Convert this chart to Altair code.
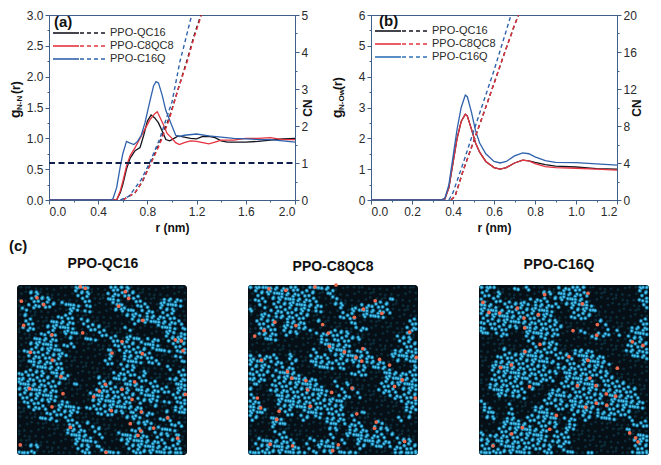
import altair as alt
import pandas as pd

FONT = "Liberation Sans"
AXIS = "#3f5f86"
TEXT = "#2a2a2a"
BLACK = "#15151f"
RED = "#e5333f"
BLUE = "#2f62ad"
BLUE_B = "#2f70b8"

names = ["PPO-QC16", "PPO-C8QC8", "PPO-C16Q"]

# panel (a) g(r)
a_q_r = [0.0, 0.55, 0.58, 0.6, 0.63, 0.66, 0.7, 0.74, 0.77, 0.8, 0.83, 0.86, 0.89, 0.92, 0.95, 0.98, 1.0, 1.05, 1.1, 1.15, 1.2, 1.25, 1.3, 1.35, 1.4, 1.45, 1.5, 1.6, 1.7, 1.8, 1.9, 2.0]
a_q_g = [0.0, 0.0, 0.12, 0.25, 0.5, 0.68, 0.8, 0.85, 1.05, 1.28, 1.38, 1.33, 1.25, 1.12, 0.98, 0.96, 0.98, 1.04, 1.02, 1.0, 0.99, 1.03, 1.03, 1.01, 0.96, 0.94, 0.94, 0.94, 0.95, 0.97, 0.99, 1.0]
a_c8_r = [0.0, 0.55, 0.58, 0.6, 0.63, 0.66, 0.7, 0.74, 0.78, 0.82, 0.86, 0.88, 0.9, 0.93, 0.96, 1.0, 1.03, 1.06, 1.1, 1.15, 1.2, 1.25, 1.3, 1.35, 1.4, 1.5, 1.6, 1.7, 1.8, 1.9, 2.0]
a_c8_g = [0.0, 0.0, 0.15, 0.3, 0.55, 0.72, 0.85, 1.0, 1.15, 1.3, 1.4, 1.43, 1.35, 1.22, 1.08, 1.0, 0.93, 0.9, 0.93, 0.96, 0.95, 0.93, 0.91, 0.94, 0.97, 0.97, 1.0, 1.0, 1.01, 0.98, 0.98]
a_c16_r = [0.0, 0.5, 0.52, 0.55, 0.58, 0.6, 0.63, 0.65, 0.69, 0.72, 0.75, 0.78, 0.82, 0.85, 0.87, 0.89, 0.92, 0.95, 0.98, 1.0, 1.03, 1.06, 1.1, 1.2, 1.3, 1.4, 1.5, 1.6, 1.7, 1.8, 1.9, 2.0]
a_c16_g = [0.0, 0.0, 0.02, 0.2, 0.55, 0.75, 0.95, 0.93, 0.9, 0.95, 1.05, 1.25, 1.6, 1.85, 1.92, 1.9, 1.7, 1.45, 1.3, 1.2, 1.05, 1.03, 1.05, 1.07, 1.04, 1.02, 1.0, 0.99, 0.98, 0.98, 0.96, 0.94]

# panel (a) CN
a_q_cr = [0.6, 0.7, 0.76, 0.82, 0.9, 0.98, 1.05, 1.12, 1.18, 1.235]
a_q_cn = [0.0, 0.2, 0.5, 0.95, 1.55, 2.25, 3.0, 3.75, 4.45, 5.0]
a_c8_cr = [0.6, 0.7, 0.75, 0.82, 0.9, 0.98, 1.05, 1.12, 1.18, 1.24]
a_c8_cn = [0.0, 0.2, 0.45, 0.93, 1.5, 2.2, 3.0, 3.7, 4.4, 5.0]
a_c16_cr = [0.58, 0.65, 0.75, 0.82, 0.9, 0.957, 1.0, 1.065, 1.1, 1.16]
a_c16_cn = [0.0, 0.1, 0.55, 1.02, 1.65, 2.23, 2.65, 3.75, 4.2, 5.0]

# panel (b) g(r)
b_r = [0.0, 0.34, 0.36, 0.38, 0.4, 0.42, 0.44, 0.46, 0.47, 0.49, 0.51, 0.53, 0.56, 0.6, 0.63, 0.66, 0.7, 0.74, 0.77, 0.8, 0.85, 0.9, 1.0, 1.1, 1.2]
b_q_g = [0.0, 0.0, 0.03, 0.4, 1.2, 2.0, 2.55, 2.78, 2.72, 2.3, 1.85, 1.55, 1.25, 1.05, 1.0, 1.05, 1.2, 1.29, 1.27, 1.22, 1.15, 1.1, 1.07, 1.02, 1.0]
b_c8_g = [0.0, 0.0, 0.03, 0.4, 1.2, 2.0, 2.55, 2.78, 2.72, 2.3, 1.85, 1.55, 1.25, 1.05, 1.0, 1.05, 1.2, 1.29, 1.27, 1.18, 1.08, 1.05, 1.03, 1.0, 0.97]
b_c16_g = [0.0, 0.0, 0.05, 0.5, 1.4, 2.3, 3.0, 3.4, 3.35, 2.85, 2.25, 1.85, 1.5, 1.25, 1.2, 1.25, 1.43, 1.53, 1.5, 1.4, 1.28, 1.22, 1.21, 1.17, 1.13]

# panel (b) CN
b_q_cr = [0.39, 0.41, 0.45, 0.5, 0.55, 0.6, 0.65, 0.7, 0.72]
b_q_cn = [0.0, 0.4, 3.2, 6.3, 9.4, 12.6, 15.8, 18.9, 20.0]
b_c8_cr = [0.39, 0.41, 0.45, 0.5, 0.55, 0.6, 0.65, 0.7, 0.72]
b_c8_cn = [0.0, 0.4, 3.2, 6.3, 9.4, 12.6, 15.8, 18.9, 20.0]
b_c16_cr = [0.38, 0.4, 0.45, 0.5, 0.55, 0.6, 0.65, 0.683]
b_c16_cn = [0.0, 0.8, 4.0, 7.4, 10.7, 14.0, 17.6, 20.0]

# snapshots: 30 x 30 map of the blue beads
map_q = [
    "..........###...####..........",
    "..##......###...#####.........",
    "..####.....##...##..##....###.",
    "..#####.###.#....##..##..####.",
    ".#.......##.#....####.##.###..",
    ".#.....###.........###.#####..",
    ".##...####.##.......#########.",
    ".##..#####..###....#.....###.#",
    "....###.###...##..........##.#",
    "...####..#..##..##.###.##.####",
    "..#####.##.......####.###..###",
    ".#######........#.#####.###.##",
    "..#######.......#..#####....#.",
    "..######.......##..###.##....#",
    "...#####..........###.....#...",
    "#####.###........####.#.....##",
    "######.##.....#..###.##....###",
    "########..#...###..###.##...##",
    "#######.......######.######.##",
    "#######......########.###..###",
    ".######.#....#######.####.#.##",
    "..###..####.##########..#...##",
    ".....######...#####.#.##..#.##",
    "....###.##.........###...##...",
    ".........##.#........###...##.",
    ".........###.##.....##.#.###..",
    ".........####.#...#####.###.#.",
    "..........####....########.##.",
    "..##......###.#....##########.",
    "###........##..###..#########.",
]
map_c8 = [
    "#########..####...............",
    ".###########..#...............",
    ".##.########...#.........#....",
    "..#.#########..##...#####.....",
    "#...#######.#...#.#######.....",
    "..##.######.....###.####......",
    ".####..###..#.....#.........##",
    "..###.##.##........##.......##",
    "..###.###...######..........#.",
    "...##........#.#####......###.",
    ".............#####.........###",
    "...........#..####.##.....####",
    "#.###..#...###.#######...#####",
    "###.##.##..#########.###..#.##",
    "####..##....###.#..##.###....#",
    "####.####.........###...######",
    "###.########............######",
    ".#..#########..#.#.....#######",
    "#...##########..#.#....###.###",
    "#....#########..##.#.....#####",
    "##...############..........###",
    "###..############...........##",
    "###...##..###.###...#.......#.",
    "##..##...##.#.###.#.......#.#.",
    "....###.......##.###...#......",
    "....#.........##..###.###.....",
    ".....##.......#..#######.#....",
    "..######...#.##.#..######.###.",
    ".########.#.####...##.##.#####",
    "##########.#.##.###.......####",
]
map_c16 = [
    "###...#.#.....#####.........##",
    "##.#.......##.#####.........##",
    "#.##.....###.######.........##",
    "###.#####.####.#####.........#",
    "#############...#####.........",
    "#############...####..........",
    "##############.......#......##",
    "#.#####.#######.......#....###",
    "##.##...######....#..##.#..###",
    "........##.#........#.....###.",
    ".........#.###............####",
    "....#...######...###......####",
    "...#########.###.#####.....###",
    "...###########.##.#####.......",
    "..##########..########........",
    "..############.########.......",
    "..#######.###..#####.###......",
    "..######.##...#######.####....",
    "..######.#...##.#####.######..",
    "...##.##....##########.#####..",
    "#..........####.######.######.",
    ".#...#....##.########.#######.",
    ".##..#....###...####.######...",
    ".##..##.######.##.##.###..#...",
    "....#####.####..#..........###",
    "...#########.#.##.........#...",
    "#.##########.###............##",
    "##.#########.###...........###",
    "###.#########.#............###",
    "#########..##..##..#.......###",
]

# red beads, in picture pixels of each snapshot's crop
red_q_x = [210, 225, 345, 355, 80, 100, 33, 325, 40, 217, 125, 397, 335, 396, 60, 126, 495, 513, 518, 305, 373, 285, 267, 58, 335, 158, 525, 250, 365, 125, 303, 393, 472, 360, 430, 180, 391, 383, 502, 30, 287, 152]
red_q_y = [25, 30, 40, 60, 58, 78, 68, 83, 140, 162, 168, 125, 188, 224, 220, 243, 183, 186, 215, 222, 308, 315, 335, 328, 330, 343, 345, 352, 360, 382, 393, 397, 415, 432, 445, 443, 453, 467, 475, 495, 517, 292]
red_c8_x = [85, 135, 222, 285, 367, 402, 422, 340, 102, 165, 245, 70, 42, 262, 505, 265, 365, 310, 345, 525, 415, 362, 445, 62, 140, 153, 195, 483, 460, 333, 200, 272, 522, 50, 60, 115, 208, 347, 108, 405, 400, 490, 88, 155, 275, 292]
red_c8_y = [24, 28, 18, 12, 85, 60, 98, 110, 125, 135, 132, 150, 167, 158, 155, 198, 205, 215, 232, 232, 238, 243, 255, 240, 275, 295, 302, 300, 320, 325, 330, 338, 355, 355, 385, 395, 380, 403, 420, 428, 447, 487, 495, 500, 515, 497]
red_c16_x = [227, 42, 340, 357, 145, 60, 92, 208, 165, 167, 312, 385, 383, 213, 168, 490, 522, 300, 357, 127, 95, 445, 363, 325, 381, 182, 440, 412, 382, 413, 350, 262, 160, 128, 242, 72, 482, 500, 507]
red_c16_y = [44, 68, 72, 40, 85, 98, 100, 105, 115, 145, 153, 135, 167, 195, 217, 187, 198, 232, 243, 257, 265, 267, 297, 320, 320, 323, 352, 345, 373, 379, 385, 410, 447, 466, 452, 502, 463, 478, 490]

# beads never sit on a lattice, this fixed pattern knocks them off it
shift_a = [0.22, -0.28, 0.08, -0.12, 0.3, -0.33, 0.02, 0.16, -0.2]
shift_b = [-0.1, 0.26, -0.3, 0.14, 0.04, -0.22, 0.32, -0.04, 0.18]


def curve(xs, ys, name):
    return pd.DataFrame({"r": xs, "v": ys, "s": name})


def ticks_layer(x_dom, y_dom, x_vals, y_vals, right_vals, right_dom):
    # transparent lines that only carry the short unlabelled ticks
    d = pd.DataFrame({"x": x_dom, "y": y_dom, "c": right_dom})
    base = alt.Chart(d).mark_line(opacity=0)
    minor = dict(labels=False, domain=False, title=None, tickSize=2, tickColor=AXIS, grid=False)
    return [
        base.encode(
            x=alt.X("x:Q", scale=alt.Scale(domain=x_dom), axis=alt.Axis(values=x_vals, orient="bottom", **minor)),
            y=alt.Y("y:Q", scale=alt.Scale(domain=y_dom), axis=alt.Axis(values=y_vals, orient="left", **minor)),
        ),
        base.encode(
            x=alt.X("x:Q", scale=alt.Scale(domain=x_dom), axis=None),
            y=alt.Y("c:Q", scale=alt.Scale(domain=right_dom),
                    axis=alt.Axis(values=right_vals, orient="right", **minor)),
        ),
    ]


def y_fmt(vals):
    return ".1f" if any(v != int(v) for v in vals) else "d"


def panel(tag, sub, sub_len, g_df, cn_df, x_dom, x_major, x_minor, y_dom, y_major, y_minor,
          c_dom, c_major, c_minor, colors, rows, tag_x, tag_y, line_at=None):
    col = alt.Color("s:N", scale=alt.Scale(domain=names, range=colors), legend=None)
    g = alt.Chart(g_df).mark_line(strokeWidth=1.3, clip=True).encode(
        x=alt.X("r:Q", scale=alt.Scale(domain=x_dom),
                axis=alt.Axis(values=x_major, format=".1f", title="r (nm)", orient="bottom", grid=False, domainColor=AXIS,
                              tickColor=AXIS, tickSize=4, titlePadding=5)),
        y=alt.Y("v:Q", scale=alt.Scale(domain=y_dom),
                axis=alt.Axis(values=y_major, format=y_fmt(y_major), title=None, orient="left", grid=False, domainColor=AXIS,
                              tickColor=AXIS, tickSize=4)),
        color=col,
        detail="s:N",
    )
    cn = alt.Chart(cn_df).mark_line(strokeWidth=1.4, strokeDash=[4, 3], clip=True).encode(
        x=alt.X("r:Q", scale=alt.Scale(domain=x_dom), axis=None),
        y=alt.Y("v:Q", scale=alt.Scale(domain=c_dom),
                axis=alt.Axis(values=c_major, format="d", title="CN", orient="right", grid=False, domainColor=AXIS,
                              tickColor=AXIS, tickSize=4, titleAngle=270, titlePadding=7)),
        color=col,
        detail="s:N",
    )
    one = pd.DataFrame({"a": [0]})
    layers = ticks_layer(x_dom, y_dom, x_minor, y_minor, c_minor, c_dom) + [g, cn]
    if line_at is not None:
        hl = pd.DataFrame({"x": x_dom, "y": [line_at, line_at]})
        layers.append(alt.Chart(hl).mark_line(color="#0f1f4a", strokeWidth=2, strokeDash=[6, 3.5]).encode(
            x=alt.X("x:Q", scale=alt.Scale(domain=x_dom), axis=None),
            y=alt.Y("y:Q", scale=alt.Scale(domain=y_dom), axis=None),
        ))
    # hand-made key
    for name, c, y in zip(names, colors, rows):
        layers.append(alt.Chart(one).mark_rule(color=c, strokeWidth=1.6).encode(
            x=alt.value(4), x2=alt.value(30), y=alt.value(y)))
        layers.append(alt.Chart(one).mark_rule(color=c, strokeWidth=1.4, strokeDash=[4, 3]).encode(
            x=alt.value(31), x2=alt.value(57), y=alt.value(y)))
        layers.append(alt.Chart(one).mark_text(text=name, font=FONT, fontSize=11, align="left", color=TEXT).encode(
            x=alt.value(61), y=alt.value(y)))
    layers.append(alt.Chart(one).mark_text(text=tag, font=FONT, fontSize=15, fontWeight="bold", align="left", color="#111").encode(
        x=alt.value(tag_x), y=alt.value(tag_y)))
    # y title pieces, rotated
    layers.append(alt.Chart(one).mark_text(text="g", font=FONT, fontSize=14, fontWeight="bold", angle=270, align="left", color="#111").encode(
        x=alt.value(-33), y=alt.value(103)))
    layers.append(alt.Chart(one).mark_text(text=sub, font=FONT, fontSize=8, fontWeight="bold", angle=270, align="left", color="#111").encode(
        x=alt.value(-29), y=alt.value(95)))
    layers.append(alt.Chart(one).mark_text(text="(r)", font=FONT, fontSize=12, fontWeight="bold", angle=270, align="left", color="#111").encode(
        x=alt.value(-33), y=alt.value(95 - sub_len)))
    return alt.layer(*layers).resolve_scale(x="independent", y="independent", color="shared").properties(
        width=246, height=185, view=alt.ViewBackground(stroke=AXIS, strokeWidth=1))


def clamp(v):
    return max(0.4, min(29.6, v))


def snapshot(grid, red_x, red_y, crop, title, title_x, title_y, tag=None):
    x0, x1, y0, y1 = crop
    cells = []
    beads = []
    for i, row in enumerate(grid):
        for j, ch in enumerate(row[:30]):
            k = i * 4 + j * 7
            cells.append({"x": clamp(j + 0.5 + shift_a[k % 9]), "y": clamp(i + 0.5 + shift_b[k % 9])})
            if ch == "#":
                beads.append({"x": clamp(j + 0.28 + shift_a[k % 9]), "y": clamp(i + 0.3 + shift_b[k % 9])})
                beads.append({"x": clamp(j + 0.72 + shift_b[(k + 2) % 9]), "y": clamp(i + 0.7 + shift_a[(k + 5) % 9])})
    cells = pd.DataFrame(cells)
    beads = pd.DataFrame(beads)
    red = pd.DataFrame({"x": [(v - x0) / (x1 - x0) * 30 for v in red_x],
                        "y": [(v - y0) / (y1 - y0) * 30 for v in red_y]})
    # the row sits further left than panel (a), so the x range starts left of the cell
    sx = alt.Scale(domain=[0, 30], range=[-32, 138])
    sy = alt.Scale(domain=[0, 30], range=[0, 170])
    x = alt.X("x:Q", scale=sx, axis=None)
    y = alt.Y("y:Q", scale=sy, axis=None)
    bg = alt.Chart(pd.DataFrame({"x": [0], "x2": [30], "y": [0], "y2": [30]})).mark_rect(color="#050f15", cornerRadius=3).encode(
        x=x, x2="x2:Q", y=y, y2="y2:Q")
    dark = alt.Chart(cells).mark_circle(color="#0c2c3a", size=8, opacity=1).encode(x=x, y=y)
    blue = alt.Chart(beads).mark_circle(color="#2a9fd2", size=14, opacity=1, stroke="#0b4763", strokeWidth=0.5).encode(x=x, y=y)
    shine = alt.Chart(beads).mark_circle(color="#55cdee", size=3, opacity=0.9).encode(x=x, y=y)
    rd = alt.Chart(red).mark_circle(color="#ec6a50", size=14, opacity=1).encode(x=x, y=y)
    one = pd.DataFrame({"a": [0]})
    layers = [bg, dark, blue, shine, rd,
              alt.Chart(one).mark_text(text=title, font=FONT, fontSize=14, fontWeight="bold", color="#111").encode(
                  x=alt.value(title_x), y=alt.value(title_y))]
    if tag:
        layers.append(alt.Chart(one).mark_text(text=tag, font=FONT, fontSize=15, fontWeight="bold", align="left", color="#111").encode(
            x=alt.value(-40), y=alt.value(-39)))
    return alt.layer(*layers).properties(width=138, height=170)


a_g = pd.concat([curve(a_q_r, a_q_g, names[0]), curve(a_c8_r, a_c8_g, names[1]), curve(a_c16_r, a_c16_g, names[2])])
a_cn = pd.concat([curve(a_q_cr, a_q_cn, names[0]), curve(a_c8_cr, a_c8_cn, names[1]), curve(a_c16_cr, a_c16_cn, names[2])])
b_g = pd.concat([curve(b_r, b_q_g, names[0]), curve(b_r, b_c8_g, names[1]), curve(b_r, b_c16_g, names[2])])
b_cn = pd.concat([curve(b_q_cr, b_q_cn, names[0]), curve(b_c8_cr, b_c8_cn, names[1]), curve(b_c16_cr, b_c16_cn, names[2])])

pa = panel("(a)", "N-N", 16, a_g, a_cn, [0, 2],
           [0, 0.4, 0.8, 1.2, 1.6, 2.0], [0.2, 0.6, 1.0, 1.4, 1.8],
           [0, 3], [0, 0.5, 1, 1.5, 2, 2.5, 3], [0.25, 0.75, 1.25, 1.75, 2.25, 2.75],
           [0, 5], [0, 1, 2, 3, 4, 5], [0.5, 1.5, 2.5, 3.5, 4.5],
           [BLACK, RED, BLUE], [18, 31, 44], 5, 7, line_at=0.6)
pb = panel("(b)", "N-Ow", 20, b_g, b_cn, [0, 1.2],
           [0, 0.2, 0.4, 0.6, 0.8, 1.0, 1.2], [0.1, 0.3, 0.5, 0.7, 0.9, 1.1],
           [0, 6], [0, 1, 2, 3, 4, 5, 6], [0.5, 1.5, 2.5, 3.5, 4.5, 5.5],
           [0, 20], [0, 4, 8, 12, 16, 20], [2, 6, 10, 14, 18],
           [BLACK, RED, BLUE_B], [16, 29, 42], 8, 6)

s1 = snapshot(map_q, red_q_x, red_q_y, (20, 530, 20, 525), "PPO-QC16", 54, -21, tag="(c)")
s2 = snapshot(map_c8, red_c8_x, red_c8_y, (22, 530, 12, 528), "PPO-C8QC8", 53, -18)
s3 = snapshot(map_c16, red_c16_x, red_c16_y, (30, 540, 15, 530), "PPO-C16Q", 48, -20)

top = alt.hconcat(pa, pb, spacing=76, bounds="flush")
bottom = alt.hconcat(s1, s2, s3, spacing=93, bounds="flush")

chart = alt.concat(top, bottom, columns=1, spacing=4, padding=0).configure_view(stroke="transparent").configure_axis(
    labelFont=FONT, labelFontSize=12, labelColor=TEXT, titleFont=FONT, titleFontSize=12, titleFontWeight="bold",
    titleColor="#111", labelPadding=2
)

chart.save("out.html", embed_options={"renderer": "svg", "actions": False})
